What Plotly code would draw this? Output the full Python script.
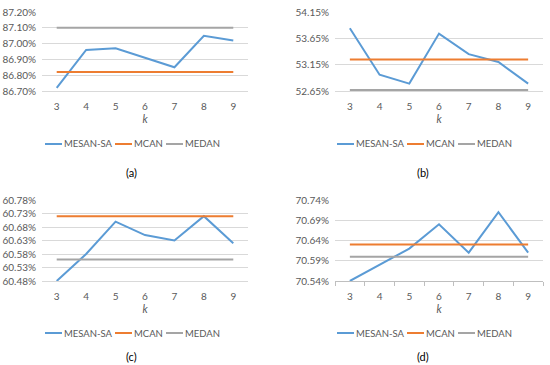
import plotly.graph_objects as go

k = [3, 4, 5, 6, 7, 8, 9]

a_mesan = [86.72, 86.96, 86.97, 86.91, 86.85, 87.05, 87.02]
a_mcan = [86.82] * 7
a_medan = [87.10] * 7

b_mesan = [53.84, 52.96, 52.79, 53.74, 53.35, 53.20, 52.79]
b_mcan = [53.25] * 7
b_medan = [52.67] * 7

c_mesan = [60.48, 60.58, 60.70, 60.65, 60.63, 60.72, 60.62]
c_mcan = [60.72] * 7
c_medan = [60.56] * 7

d_mesan = [70.54, 70.58, 70.62, 70.68, 70.61, 70.71, 70.61]
d_mcan = [70.63] * 7
d_medan = [70.60] * 7

series_names = ["MESAN-SA", "MCAN", "MEDAN"]
panel_labels = ["(a)", "(b)", "(c)", "(d)"]
y_ranges = [(86.70, 87.20, 0.10), (52.65, 54.15, 0.50), (60.48, 60.78, 0.05), (70.54, 70.74, 0.05)]
panel_data = [
    (a_mesan, a_mcan, a_medan),
    (b_mesan, b_mcan, b_medan),
    (c_mesan, c_mcan, c_medan),
    (d_mesan, d_mcan, d_medan),
]

W, H = 550, 365
FONT = "Lato"
TXT = "#595959"
colors = ["#5B9BD5", "#ED7D31", "#A5A5A5"]


def px(x):
    return x / W


def py(y):
    return 1 - y / H


# pixel geometry per panel: (x_left, x_right, y_top, y_bottom, center_x, legend_y, label_y)
geo = [
    (42, 248, 12, 91, 131, 144, 172),
    (335, 543, 12, 91, 423, 144, 172),
    (42, 248, 200, 281, 131, 333, 356),
    (335, 543, 200, 281, 423, 333, 356),
]
leg_offsets = [-86, -16, 35]  # line start relative to center
LINE_LEN = 17

fig = go.Figure()
layout = {}
annotations = []
shapes = []
for i in range(4):
    idx = "" if i == 0 else str(i + 1)
    xl, xr, yt, yb, cx, ly, lbly = geo[i]
    y0, y1, dt = y_ranges[i]
    for sname, vals, col in zip(series_names, panel_data[i], colors):
        fig.add_trace(go.Scatter(
            x=k, y=vals, mode="lines", name=sname, showlegend=False,
            line=dict(color=col, width=2),
            xaxis="x" + idx, yaxis="y" + idx,
        ))
    is_d = i == 3
    layout["xaxis" + idx] = dict(
        domain=[px(xl), px(xr)], anchor="y" + idx, automargin=False,
        range=[2.5, 9.5], tickvals=k, showgrid=False, zeroline=False,
        showline=True, linecolor="#BFBFBF" if is_d else "#D9D9D9", linewidth=1,
        ticks="", ticklabelstandoff=6,
        tickfont=dict(family=FONT, size=10, color=TXT),
        title=dict(text="<i>k</i>", font=dict(family=FONT, size=11, color=TXT), standoff=3),
    )
    if is_d:
        layout["xaxis" + idx]["minor"] = dict(
            tickvals=[2.5, 3.5, 4.5, 5.5, 6.5, 7.5, 8.5, 9.5],
            ticks="outside", ticklen=4, tickcolor="#BFBFBF")
    layout["yaxis" + idx] = dict(
        domain=[py(yb), py(yt)], anchor="x" + idx, automargin=False,
        range=[y0, y1], tick0=y0, dtick=dt, tickformat=".2f", ticksuffix="%",
        showgrid=True, gridcolor="#D9D9D9", gridwidth=1, zeroline=False,
        showline=False, tickfont=dict(family=FONT, size=10, color=TXT),
        ticklabelstandoff=5,
    )
    # manual legend
    for off, sname, col in zip(leg_offsets, series_names, colors):
        x_start = cx + off
        shapes.append(dict(type="line", xref="paper", yref="paper",
                           x0=px(x_start), x1=px(x_start + LINE_LEN),
                           y0=py(ly), y1=py(ly),
                           line=dict(color=col, width=2)))
        annotations.append(dict(text=sname, x=px(x_start + LINE_LEN), y=py(ly),
                                xref="paper", yref="paper", showarrow=False,
                                xanchor="left", yanchor="middle",
                                font=dict(family=FONT, size=9.5, color=TXT)))
    annotations.append(dict(
        text=panel_labels[i], x=px(cx), y=py(lbly), xref="paper", yref="paper",
        showarrow=False, font=dict(family=FONT, size=11, color="#000000"),
        xanchor="center", yanchor="middle",
    ))

fig.update_layout(
    width=W, height=H, margin=dict(l=0, r=0, t=0, b=0, autoexpand=False),
    paper_bgcolor="white", plot_bgcolor="white", showlegend=False,
    annotations=annotations, shapes=shapes, **layout,
)
fig.write_html("out.html", config={"displayModeBar": False},
               post_script="document.body.style.margin='0';document.body.style.overflow='hidden';")
